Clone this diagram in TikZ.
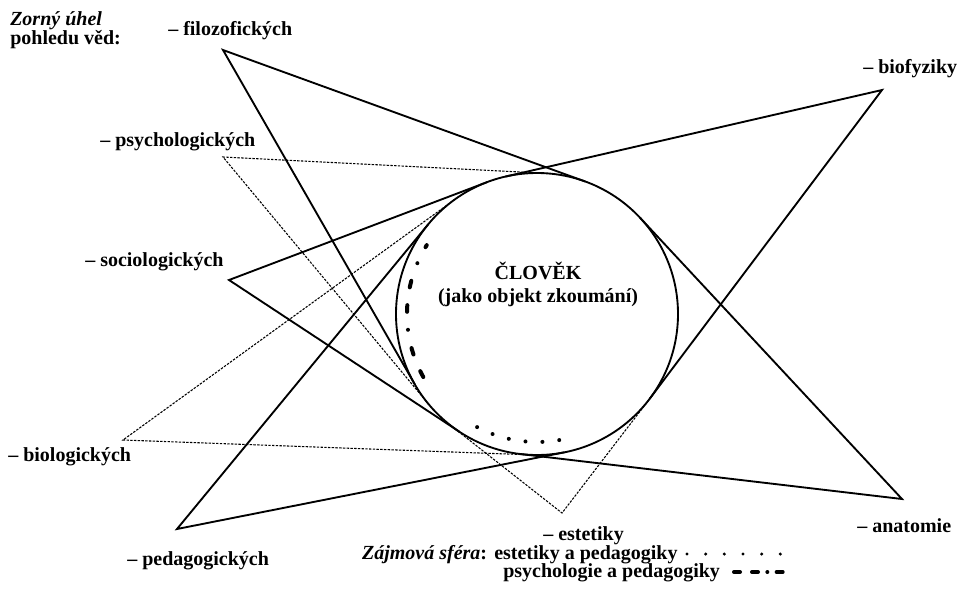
\documentclass[tikz,border=0pt]{standalone}
\usepackage{fontspec}
\setmainfont{Liberation Serif}
\usetikzlibrary{calc}

\begin{document}
\begin{tikzpicture}[x=0.75pt, y=-0.75pt,
    popis/.style={font=\fontsize{15}{18}\selectfont\bfseries, inner sep=0pt, anchor=base west},
    pohled/.style={line width=1.4pt},
    pohledtecky/.style={line width=0.8pt, dash pattern=on 1.8pt off 1pt},
    sfera/.style={line width=3pt, line cap=round}]

                \useasboundingbox (0,0) rectangle (960,601);

                % Clovek (kruh)
                \node[circle, draw, line width=1.4pt, inner sep=0pt, outer sep=0pt, minimum size=211.5pt] (clovek) at (537,314) {};
                \node[popis, anchor=base] (nazev) at (538,279) {ČLOVĚK};
                \node[popis, anchor=base] (objekt) at (538,302) {(jako objekt zkoumání)};

                % Vrcholy zornych uhlu
                \coordinate (filo) at (223,50);
                \coordinate (psych) at (223,157);
                \coordinate (soci) at (229,280);
                \coordinate (biol) at (123,440);
                \coordinate (peda) at (177,529);
                \coordinate (este) at (562,513);
                \coordinate (anat) at (902,499);
                \coordinate (biof) at (882,90);

                % Zorne uhly (tecny ke kruhu)
                \foreach \v in {filo,soci,peda,biof,anat}
                    \draw[pohled] (tangent cs:node=clovek,point={(\v)},solution=1) -- (\v) -- (tangent cs:node=clovek,point={(\v)},solution=2);
                \foreach \v in {psych,biol,este}
                    \draw[pohledtecky] (tangent cs:node=clovek,point={(\v)},solution=1) -- (\v) -- (tangent cs:node=clovek,point={(\v)},solution=2);

                % Zajmove sfery
                \draw[sfera, dash pattern=on 0pt off 12.7pt] ($(clovek.center)+(80:128)$) arc[start angle=80, end angle=118.2, radius=128];
                \draw[sfera, dash pattern=on 5pt off 13.5pt on 5pt off 14pt on 0pt off 13.5pt] ($(clovek.center)+(151:130)$) arc[start angle=151, end angle=212, radius=130];

                % Popisky ved
                \node[popis] (zorny) at (10,25) {\textit{Zorný úhel}};
                \node[popis] (pohledu) at (10,44) {pohledu věd:};
                \node[popis] (lfilo) at (168,35.6) {– filozofických};
                \node[popis] (lpsych) at (100,146.6) {– psychologických};
                \node[popis] (lsoci) at (85,266.6) {– sociologických};
                \node[popis] (lbiol) at (8,461.6) {– biologických};
                \node[popis] (lpeda) at (127,565.6) {– pedagogických};
                \node[popis] (leste) at (543,540) {– estetiky};
                \node[popis] (lanat) at (857,532) {– anatomie};
                \node[popis] (lbiof) at (863,73.6) {– biofyziky};

                % Legenda
                \node[popis] (estped) at (494,559) {estetiky a pedagogiky};
                \node[popis, anchor=base east, xshift=-5] (zajem) at (estped.base west) {\textit{Zájmová sféra}:};
                \node[popis] (psyped) at (503,577) {psychologie a pedagogiky};
                \draw[sfera, line width=2.5pt, dash pattern=on 0pt off 14pt] (687,554) -- (781,554);
                \draw[sfera, dash pattern=on 4.5pt off 9pt on 4.5pt off 7pt on 0pt off 7pt on 4.5pt off 50pt] (734,572) -- (783,572);
            \end{tikzpicture}
\end{document}
